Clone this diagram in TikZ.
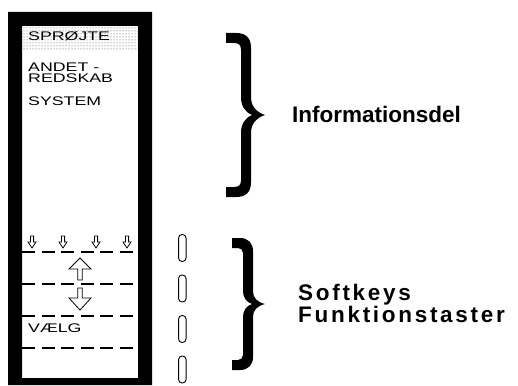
\documentclass[tikz,border=0pt]{standalone}
\usepackage{fontspec}
\setmainfont{Liberation Sans}
\newfontfamily\infofont{Liberation Sans Bold}
\newfontfamily\softfont[LetterSpace=12]{Liberation Sans Bold}
\usetikzlibrary{patterns}
\newcommand\lcdtext[1]{\scalebox{1.42}[1]{\fontsize{12.5}{10}\selectfont #1}}
\begin{document}
\begin{tikzpicture}[x=1pt,y=-1pt,
  dashline/.style={line width=1.3pt, dash pattern=on 13pt off 6.5pt},
  outarrow/.style={draw=black, line width=0.8pt, fill=white, line join=miter},
  keybox/.style={draw, line width=0.9pt, rounded corners=3.5pt, minimum width=7.5pt, minimum height=27pt, inner sep=0pt},
  lcd/.style={anchor=base west, inner sep=0pt},
  infotxt/.style={anchor=base west, inner sep=0pt, font=\infofont\fontsize{22.5}{20}\selectfont},
  softtxt/.style={anchor=base west, inner sep=0pt, font=\softfont\fontsize{22.5}{20}\selectfont},
  smalldown/.pic={\draw[outarrow] (-1.6,-6) -- (1.6,-6) -- (1.6,0) -- (4,0) -- (0,6) -- (-4,0) -- (-1.6,0) -- cycle;}
]
\useasboundingbox (0,0) rectangle (518,385);
% frame
\fill[even odd rule] (8,12) rectangle (152,385) (22,26) rectangle (138,378);
% dotted band
\fill[pattern=dots, pattern color=black!75] (22,26) rectangle (138,50);
% labels
\node[lcd] (spr) at (28,41) {\lcdtext{SPRØJTE}};
\node[lcd] (andet) at (28,72) {\lcdtext{ANDET -}};
\node[lcd] (redskab) at (28,83) {\lcdtext{REDSKAB}};
\node[lcd] (system) at (28,105) {\lcdtext{SYSTEM}};
\node[lcd] (vaelg) at (28,332) {\lcdtext{VÆLG}};
% small arrows
\pic at (32,242) {smalldown};
\pic at (63,242) {smalldown};
\pic at (96,242) {smalldown};
\pic at (127,242) {smalldown};
% dashed lines
\draw[dashline] (22,252) -- (138,252);
\draw[dashline, line width=2pt] (22,284) -- (138,284);
\draw[dashline] (22,316) -- (138,316);
\draw[dashline] (22,348) -- (138,348);
% big arrows
\draw[outarrow] (80,258) -- (91,269) -- (82.3,269) -- (82.3,280) -- (77.7,280) -- (77.7,269) -- (69,269) -- cycle;
\draw[outarrow] (80,310) -- (91,298) -- (82.3,298) -- (82.3,288) -- (77.7,288) -- (77.7,298) -- (69,298) -- cycle;
% keys
\node[keybox] (k1) at (182.3,248) {};
\node[keybox] (k2) at (182.3,288.5) {};
\node[keybox] (k3) at (182.3,329) {};
\node[keybox] (k4) at (182.3,369.5) {};
% brace 1
\fill (226,33) -- (236,33) .. controls (246,33) and (251,38) .. (251,48)
  -- (251,97) .. controls (251,106) and (256,112) .. (265,115)
  .. controls (256,118) and (251,124) .. (251,133)
  -- (251,182) .. controls (251,192) and (246,197) .. (236,197) -- (226,197)
  -- (226,187) -- (234,187) .. controls (239,187) and (241,185) .. (241,180)
  -- (241,133) .. controls (241,124) and (245,118) .. (252,115)
  .. controls (245,112) and (241,106) .. (241,97)
  -- (241,50) .. controls (241,45) and (239,43) .. (234,43) -- (226,43) -- cycle;
% brace 2
\fill (232,238) -- (240,238) .. controls (248,238) and (253,243) .. (253,251)
  -- (253,291) .. controls (253,298) and (257,302) .. (265,304)
  .. controls (257,306) and (253,310) .. (253,317)
  -- (253,357) .. controls (253,365) and (248,370) .. (240,370) -- (232,370)
  -- (232,360) -- (238,360) .. controls (241,360) and (243,358) .. (243,355)
  -- (243,317) .. controls (243,311) and (246,306) .. (252,304)
  .. controls (246,302) and (243,297) .. (243,291)
  -- (243,253) .. controls (243,250) and (241,248) .. (238,248) -- (232,248) -- cycle;
% big texts
\node[infotxt] (info) at (292,122) {Informationsdel};
\node[softtxt] (soft) at (298,300) {Softkeys};
\node[softtxt] (funk) at (298,322) {Funktionstaster};
\end{tikzpicture}
\end{document}
